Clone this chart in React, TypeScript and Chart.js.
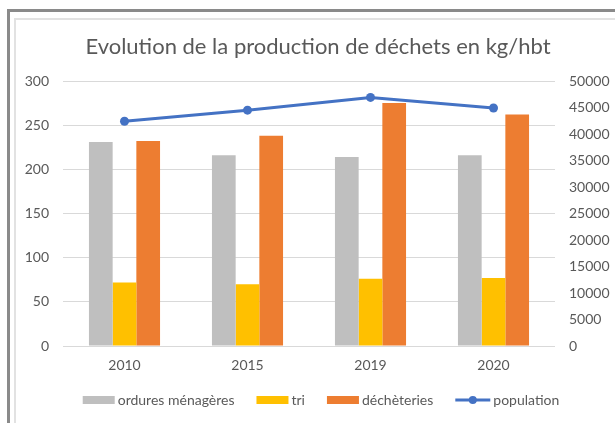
import React, { useEffect, useRef } from "react";
import { Chart, registerables } from "chart.js";

Chart.register(...registerables);

const categories = ["2010", "2015", "2019", "2020"];
const orduresMenageres = [231, 216, 214, 216];
const tri = [72, 70, 76, 77];
const decheteries = [232, 238, 275, 262];
const population = [42400, 44500, 46900, 44900];
const leftTicks = { min: 0, max: 300, step: 50 };
const rightTicks = { min: 0, max: 50000, step: 5000 };

const FONT = "Lato, 'Open Sans', sans-serif";
const TEXT = "#595959";

const legendPlugin = {
  id: "customLegend",
  afterDraw(chart: any) {
    const ctx = chart.ctx as CanvasRenderingContext2D;
    const ds = chart.data.datasets;
    const items = [ds[1], ds[2], ds[3], ds[0]];
    ctx.save();
    ctx.font = `14px ${FONT}`;
    const symW = (d: any) => (d.type === "line" ? 35 : 32);
    const gap = 3;
    const itemGap = 22;
    let total = 0;
    items.forEach((d: any, i: number) => {
      total += symW(d) + gap + ctx.measureText(d.label).width;
      if (i < items.length - 1) total += itemGap;
    });
    const cx = 321;
    const cy = 400;
    let x = cx - total / 2;
    items.forEach((d: any) => {
      const w = symW(d);
      if (d.type === "line") {
        ctx.strokeStyle = d.borderColor;
        ctx.lineWidth = 3;
        ctx.beginPath();
        ctx.moveTo(x, cy);
        ctx.lineTo(x + w, cy);
        ctx.stroke();
        ctx.fillStyle = d.borderColor;
        ctx.beginPath();
        ctx.arc(x + w / 2, cy, 4, 0, Math.PI * 2);
        ctx.fill();
      } else {
        ctx.fillStyle = d.backgroundColor;
        ctx.fillRect(x, cy - 4, w, 8);
      }
      x += w + gap;
      ctx.fillStyle = TEXT;
      ctx.textBaseline = "middle";
      ctx.textAlign = "left";
      ctx.fillText(d.label, x, cy);
      x += ctx.measureText(d.label).width + itemGap;
    });
    ctx.restore();
  },
};

export default function App() {
  const ref = useRef<HTMLCanvasElement>(null);
  useEffect(() => {
    if (!ref.current) return;
    const chart = new Chart(ref.current, {
      type: "bar",
      data: {
        labels: categories,
        datasets: [
          {
            type: "line",
            label: "population",
            data: population,
            yAxisID: "y1",
            borderColor: "#4472C4",
            backgroundColor: "#4472C4",
            borderWidth: 3,
            pointRadius: 4.5,
            pointBackgroundColor: "#4472C4",
            pointBorderWidth: 0,
            order: 0,
          } as any,
          {
            label: "ordures ménagères",
            data: orduresMenageres,
            backgroundColor: "#BFBFBF",
            yAxisID: "y",
            order: 1,
          },
          {
            label: "tri",
            data: tri,
            backgroundColor: "#FFC000",
            yAxisID: "y",
            order: 1,
          },
          {
            label: "déchèteries",
            data: decheteries,
            backgroundColor: "#ED7D31",
            yAxisID: "y",
            order: 1,
          },
        ],
      },
      options: {
        animation: false,
        responsive: false,
        layout: { padding: { left: 21, right: 0, top: 0, bottom: 47 } },
        datasets: {
          bar: { categoryPercentage: 0.578, barPercentage: 1 },
        },
        plugins: {
          legend: { display: false },
          tooltip: { enabled: false },
          title: {
            display: true,
            text: "Evolution de la production de déchets en kg/hbt",
            color: TEXT,
            font: { family: FONT, size: 22, weight: "normal" },
            padding: { top: 33.5, bottom: 21.1 },
          },
        },
        scales: {
          x: {
            grid: { display: false, drawTicks: false },
            border: { display: false },
            ticks: { color: TEXT, font: { family: FONT, size: 14 }, padding: 11 },
            afterFit: (s: any) => {
              s.height = 30;
            },
          },
          y: {
            position: "left",
            min: leftTicks.min,
            max: leftTicks.max,
            grid: { color: "#D9D9D9", lineWidth: 1, drawTicks: false },
            border: { display: false },
            ticks: {
              stepSize: leftTicks.step,
              color: TEXT,
              font: { family: FONT, size: 14 },
              padding: 14,
              callback: (v: any) => String(v),
            },
            afterFit: (s: any) => {
              s.width = 42;
            },
          },
          y1: {
            position: "right",
            min: rightTicks.min,
            max: rightTicks.max,
            grid: { display: false, drawTicks: false },
            border: { display: false },
            ticks: {
              stepSize: rightTicks.step,
              color: TEXT,
              font: { family: FONT, size: 14 },
              padding: 14,
              callback: (v: any) => String(v),
            },
            afterFit: (s: any) => {
              s.width = 60;
            },
          },
        },
      },
      plugins: [legendPlugin],
    });
    return () => chart.destroy();
  }, []);

  return (
    <div
      style={{
        position: "absolute",
        left: 0,
        top: 0,
        width: 615,
        height: 423,
        overflow: "hidden",
        background: "#fff",
      }}
    >
      <div
        style={{
          position: "absolute",
          left: 7,
          top: 9,
          width: 700,
          height: 500,
          borderLeft: "3px solid #8a8a8a",
          borderTop: "3px solid #8a8a8a",
        }}
      />
      <div
        style={{
          position: "absolute",
          left: 14,
          top: 18,
          width: 700,
          height: 500,
          borderLeft: "2px solid #e2e2e2",
          borderTop: "2px solid #e2e2e2",
        }}
      />
      <canvas
        ref={ref}
        width={615}
        height={423}
        style={{ position: "absolute", left: 0, top: 0, width: 615, height: 423 }}
      />
    </div>
  );
}
